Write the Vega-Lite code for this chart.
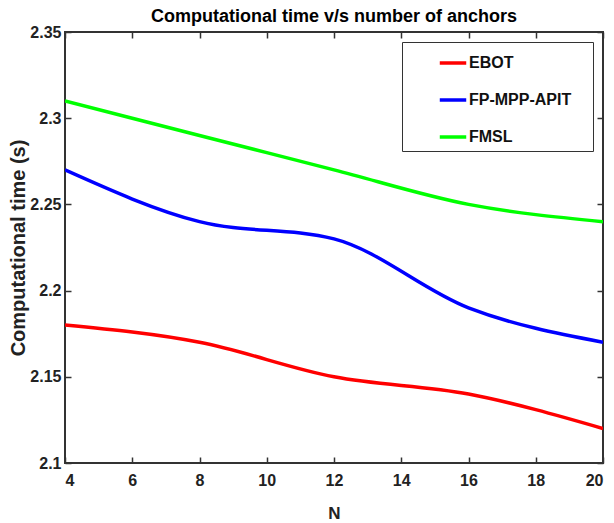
{
  "$schema": "https://vega.github.io/schema/vega-lite/v6.json",
  "width": 538,
  "height": 431,
  "autosize": {"type": "none"},
  "padding": {"left": 65, "top": 32, "right": 11, "bottom": 60},
  "background": "white",
  "title": {
    "text": "Computational time v/s number of anchors",
    "font": "Liberation Sans",
    "fontSize": 18,
    "fontWeight": "bold",
    "color": "#000000",
    "offset": 0,
    "dy": 2,
    "anchor": "middle"
  },
  "config": {
    "view": {"stroke": "#333333", "strokeWidth": 2},
    "axis": {
      "grid": false,
      "domain": false,
      "tickColor": "#333333",
      "tickWidth": 1.5,
      "tickSize": -6,
      "labelFont": "Liberation Sans",
      "labelFontSize": 16,
      "labelFontWeight": "bold",
      "labelColor": "#222222",
      "titleFont": "Liberation Sans",
      "titleFontWeight": "bold",
      "titleColor": "#222222"
    }
  },
  "data": {
    "values": [
      {"N": 4, "time": 2.18, "method": "EBOT"},
      {"N": 8, "time": 2.17, "method": "EBOT"},
      {"N": 12, "time": 2.15, "method": "EBOT"},
      {"N": 16, "time": 2.14, "method": "EBOT"},
      {"N": 20, "time": 2.12, "method": "EBOT"},
      {"N": 4, "time": 2.27, "method": "FP-MPP-APIT"},
      {"N": 8, "time": 2.24, "method": "FP-MPP-APIT"},
      {"N": 12, "time": 2.23, "method": "FP-MPP-APIT"},
      {"N": 16, "time": 2.19, "method": "FP-MPP-APIT"},
      {"N": 20, "time": 2.17, "method": "FP-MPP-APIT"},
      {"N": 4, "time": 2.31, "method": "FMSL"},
      {"N": 8, "time": 2.29, "method": "FMSL"},
      {"N": 12, "time": 2.27, "method": "FMSL"},
      {"N": 16, "time": 2.25, "method": "FMSL"},
      {"N": 20, "time": 2.24, "method": "FMSL"}
    ]
  },
  "layer": [
    {
      "mark": {"type": "point", "opacity": 0},
      "encoding": {
        "x": {
          "field": "N",
          "type": "quantitative",
          "scale": {"domain": [4, 20], "nice": false, "zero": false},
          "axis": {"orient": "top", "values": [4, 6, 8, 10, 12, 14, 16, 18, 20], "labels": false, "title": null}
        },
        "y": {
          "field": "time",
          "type": "quantitative",
          "scale": {"domain": [2.1, 2.35], "nice": false, "zero": false},
          "axis": {"orient": "right", "values": [2.1, 2.15, 2.2, 2.25, 2.3, 2.35], "labels": false, "title": null}
        }
      }
    },
    {
      "mark": {"type": "line", "interpolate": "monotone", "strokeWidth": 3.5, "clip": true},
      "encoding": {
        "x": {
          "field": "N",
          "type": "quantitative",
          "scale": {"domain": [4, 20], "nice": false, "zero": false},
          "axis": {"orient": "bottom", "values": [4, 6, 8, 10, 12, 14, 16, 18, 20], "title": "N", "titleFontSize": 17, "titlePadding": 17, "labelPadding": 15}
        },
        "y": {
          "field": "time",
          "type": "quantitative",
          "scale": {"domain": [2.1, 2.35], "nice": false, "zero": false},
          "axis": {"orient": "left", "values": [2.1, 2.15, 2.2, 2.25, 2.3, 2.35], "format": ".2~f", "title": "Computational time (s)", "titleFontSize": 20, "titlePadding": 1, "labelPadding": 10, "labelFlush": false}
        },
        "color": {
          "field": "method",
          "type": "nominal",
          "sort": ["EBOT", "FP-MPP-APIT", "FMSL"],
          "scale": {"domain": ["EBOT", "FP-MPP-APIT", "FMSL"], "range": ["#ff0000", "#0000ff", "#00ff00"]},
          "legend": {
            "title": "\u00a0",
            "titleOrient": "right",
            "titlePadding": 16,
            "orient": "none",
            "legendX": 337,
            "legendY": 10,
            "strokeColor": "#333333",
            "fillColor": "white",
            "padding": 6,
            "symbolType": "stroke",
            "symbolStrokeWidth": 3.5,
            "symbolSize": 700,
            "symbolOffset": 30,
            "labelOffset": 1,
            "labelFont": "Liberation Sans",
            "labelFontSize": 16,
            "labelFontWeight": "bold",
            "labelColor": "#111111",
            "rowPadding": 14
          }
        }
      }
    }
  ],
  "resolve": {"axis": {"x": "independent", "y": "independent"}}
}
